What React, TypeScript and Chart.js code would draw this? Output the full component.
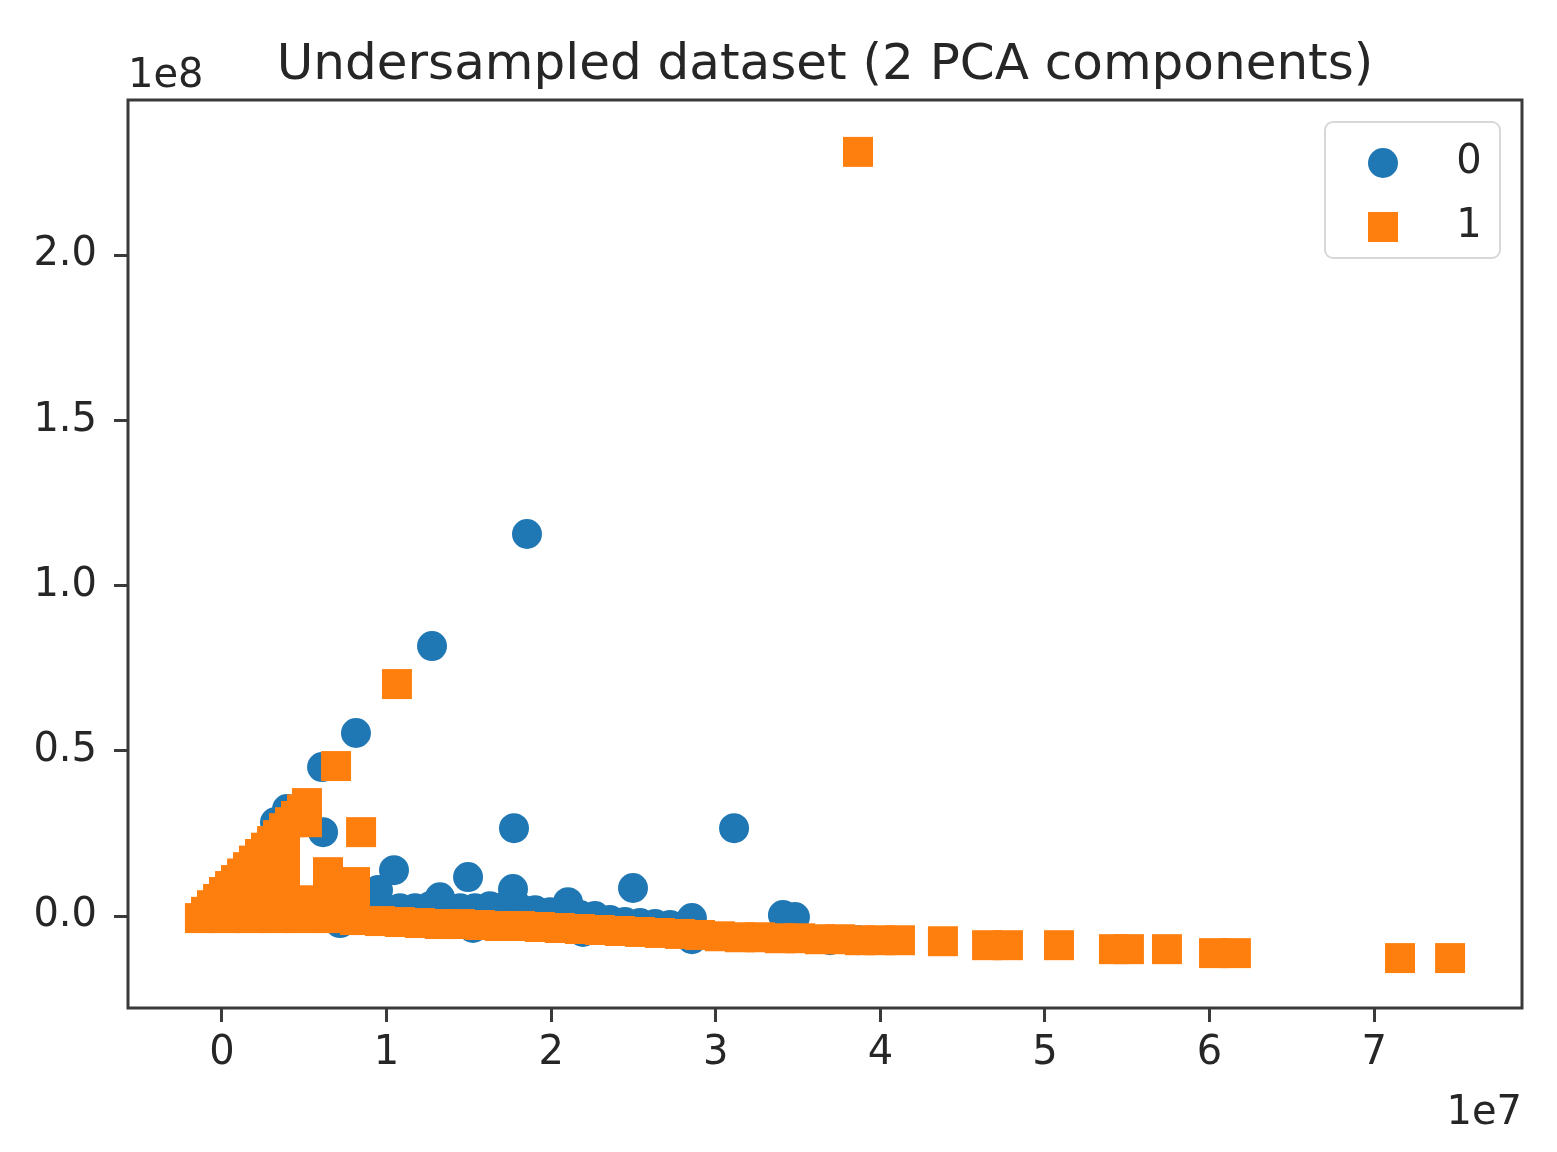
import React, { useEffect, useRef } from "react";
import { Chart, registerables } from "chart.js";

Chart.register(...registerables);

// ---- text ----
const TITLE = "Undersampled dataset (2 PCA components)";
const X_OFFSET_LABEL = "1e7";
const Y_OFFSET_LABEL = "1e8";
const CLASS_LABELS = ["0", "1"];

// ---- axes (values in units of 1e7 for x and 1e8 for y) ----
const X_TICKS = [0, 1, 2, 3, 4, 5, 6, 7];
const Y_TICKS = [0, 0.5, 1.0, 1.5, 2.0];
const X_MIN = -0.571;
const X_MAX = 7.898;
const Y_MIN = -0.278;
const Y_MAX = 2.469;

// ---- class 0 (blue circles): [PC1 (x1e7), PC2 (x1e8)] ----
const CLASS0_POINTS: [number, number][] = [
  [1.853, 1.156], [1.276, 0.817], [0.814, 0.554], [0.608, 0.451],
  [0.614, 0.254], [1.774, 0.266], [3.111, 0.266], [1.045, 0.139],
  [1.495, 0.118], [1.768, 0.082], [2.497, 0.085], [2.102, 0.042],
  [2.855, -0.006], [3.408, 0.003], [3.481, -0.003],
  [0.395, 0.324], [0.322, 0.284],
  [0.948, 0.079], [1.324, 0.057],
  [0.899, 0.033], [0.990, 0.024], [1.081, 0.024], [1.173, 0.024],
  [1.264, 0.030], [1.355, 0.030], [1.446, 0.024], [1.537, 0.024],
  [1.628, 0.030], [1.719, 0.030], [1.810, 0.024], [1.902, 0.018],
  [1.993, 0.012], [2.084, 0.006], [2.175, 0.003], [2.266, 0.000],
  [2.357, -0.012], [2.448, -0.018], [2.540, -0.021], [2.631, -0.024],
  [2.722, -0.027], [2.813, -0.027],
  [0.717, -0.021], [1.525, -0.036], [2.193, -0.048], [2.855, -0.070],
  [3.694, -0.073], [3.864, -0.073],
];

// ---- class 1 (orange squares): [PC1 (x1e7), PC2 (x1e8)] ----
const CLASS1_POINTS: [number, number][] = [
  [3.864, 2.312], [1.063, 0.702], [0.693, 0.454], [0.845, 0.254],
  [-0.134, -0.006], [-0.097, 0.013], [-0.061, 0.033], [-0.024, 0.052],
  [0.012, 0.073], [0.049, 0.091], [0.085, 0.109], [0.122, 0.129],
  [0.158, 0.148], [0.194, 0.168], [0.231, 0.188], [0.267, 0.207],
  [0.304, 0.227], [0.340, 0.245], [0.377, 0.266], [0.413, 0.284],
  [0.450, 0.303], [0.486, 0.323], [0.516, 0.342], [0.516, 0.284],
  [0.018, -0.006], [0.170, 0.073], [0.170, -0.006], [0.322, 0.154],
  [0.322, 0.073], [0.322, -0.006], [0.383, 0.194], [0.383, 0.124],
  [0.474, 0.048], [0.474, -0.006],
  [0.644, 0.133], [0.644, 0.054], [0.644, -0.006],
  [0.808, 0.103], [0.808, 0.033], [0.808, -0.012],
  [0.960, -0.015], [1.081, -0.018], [1.203, -0.021], [1.324, -0.024],
  [1.446, -0.024], [1.567, -0.027], [1.689, -0.030], [1.810, -0.030],
  [1.932, -0.033], [2.053, -0.036], [2.175, -0.039], [2.296, -0.042],
  [2.418, -0.045], [2.540, -0.048], [2.661, -0.051], [2.783, -0.054],
  [2.904, -0.057], [3.025, -0.061], [3.147, -0.064], [3.269, -0.064],
  [3.390, -0.067], [3.512, -0.067], [3.633, -0.070], [3.755, -0.070],
  [3.876, -0.073], [3.998, -0.073], [4.119, -0.073],
  [4.380, -0.076], [4.648, -0.088], [4.775, -0.088], [5.085, -0.088],
  [5.419, -0.100], [5.510, -0.100], [5.741, -0.100], [6.027, -0.112],
  [6.160, -0.112], [7.157, -0.127], [7.461, -0.127],
];

const BLUE = "#1f77b4";
const ORANGE = "#ff7f0e";
const TEXT = "#262626";
const SPINE = "#3a3a3a";
const FONT = '"DejaVu Sans", "Liberation Sans", sans-serif';

const decorations = {
  id: "decorations",
  afterDraw(chart: any) {
    const { ctx, chartArea: a } = chart;
    ctx.save();
    // frame
    ctx.strokeStyle = SPINE;
    ctx.lineWidth = 3;
    ctx.strokeRect(a.left, a.top, a.right - a.left, a.bottom - a.top);
    // title
    ctx.fillStyle = TEXT;
    ctx.font = `50px ${FONT}`;
    ctx.textAlign = "center";
    ctx.textBaseline = "alphabetic";
    ctx.fillText(TITLE, (a.left + a.right) / 2, a.top - 21);
    // offset texts
    ctx.font = `40px ${FONT}`;
    ctx.textAlign = "left";
    ctx.fillText(Y_OFFSET_LABEL, a.left, a.top - 13);
    ctx.textAlign = "right";
    ctx.fillText(X_OFFSET_LABEL, a.right, a.bottom + 116);
    // legend
    const bx = a.right - 197;
    const by = a.top + 22;
    const bw = 175;
    const bh = 136;
    ctx.beginPath();
    ctx.roundRect(bx, by, bw, bh, 8);
    ctx.fillStyle = "rgba(255,255,255,0.8)";
    ctx.fill();
    ctx.strokeStyle = "#d8d8d8";
    ctx.lineWidth = 2;
    ctx.stroke();
    const mx = bx + 58;
    const r1 = by + 41;
    const r2 = by + 105;
    ctx.fillStyle = BLUE;
    ctx.beginPath();
    ctx.arc(mx, r1, 15, 0, Math.PI * 2);
    ctx.fill();
    ctx.fillStyle = ORANGE;
    ctx.fillRect(mx - 15, r2 - 15, 30, 30);
    ctx.fillStyle = TEXT;
    ctx.font = `40px ${FONT}`;
    ctx.textAlign = "center";
    ctx.textBaseline = "middle";
    ctx.fillText(CLASS_LABELS[0], bx + 144, r1);
    ctx.fillText(CLASS_LABELS[1], bx + 144, r2);
    ctx.restore();
  },
};

export default function App() {
  const ref = useRef<HTMLCanvasElement | null>(null);

  useEffect(() => {
    if (!ref.current) return;
    const chart = new Chart(ref.current, {
      type: "scatter",
      data: {
        datasets: [
          {
            label: CLASS_LABELS[0],
            data: CLASS0_POINTS.map(([x, y]) => ({ x, y })),
            pointStyle: "circle",
            pointRadius: 15,
            pointHoverRadius: 15,
            backgroundColor: BLUE,
            borderWidth: 0,
            order: 1,
          },
          {
            label: CLASS_LABELS[1],
            data: CLASS1_POINTS.map(([x, y]) => ({ x, y })),
            pointStyle: "rect",
            pointRadius: 21.2,
            pointHoverRadius: 21.2,
            backgroundColor: ORANGE,
            borderWidth: 0,
            order: 0,
          },
        ],
      },
      options: {
        responsive: false,
        animation: false,
        devicePixelRatio: 1,
        events: [],
        layout: { padding: { top: 100, right: 35, left: 0, bottom: 0 } },
        plugins: {
          legend: { display: false },
          tooltip: { enabled: false },
          title: { display: false },
        },
        scales: {
          x: {
            type: "linear",
            min: X_MIN,
            max: X_MAX,
            afterFit: (s: any) => {
              s.height = 144;
            },
            afterBuildTicks: (s: any) => {
              s.ticks = X_TICKS.map((v) => ({ value: v }));
            },
            grid: {
              drawOnChartArea: false,
              drawTicks: true,
              tickLength: 14,
              tickWidth: 3,
              tickColor: SPINE,
            },
            border: { display: false },
            ticks: {
              font: { family: FONT, size: 40 },
              color: TEXT,
              padding: 8,
              maxRotation: 0,
              autoSkip: false,
              callback: (v: any) => String(v),
            },
          },
          y: {
            type: "linear",
            min: Y_MIN,
            max: Y_MAX,
            afterFit: (s: any) => {
              s.width = 128;
            },
            afterBuildTicks: (s: any) => {
              s.ticks = Y_TICKS.map((v) => ({ value: v }));
            },
            grid: {
              drawOnChartArea: false,
              drawTicks: true,
              tickLength: 14,
              tickWidth: 3,
              tickColor: SPINE,
            },
            border: { display: false },
            ticks: {
              font: { family: FONT, size: 40 },
              color: TEXT,
              padding: 17,
              autoSkip: false,
              callback: (v: any) => Number(v).toFixed(1),
            },
          },
        },
      },
      plugins: [decorations],
    });
    return () => chart.destroy();
  }, []);

  return (
    <div style={{ position: "absolute", left: 0, top: 0, width: 1557, height: 1152, background: "#fff" }}>
      <canvas ref={ref} width={1557} height={1152} style={{ display: "block" }} />
    </div>
  );
}
